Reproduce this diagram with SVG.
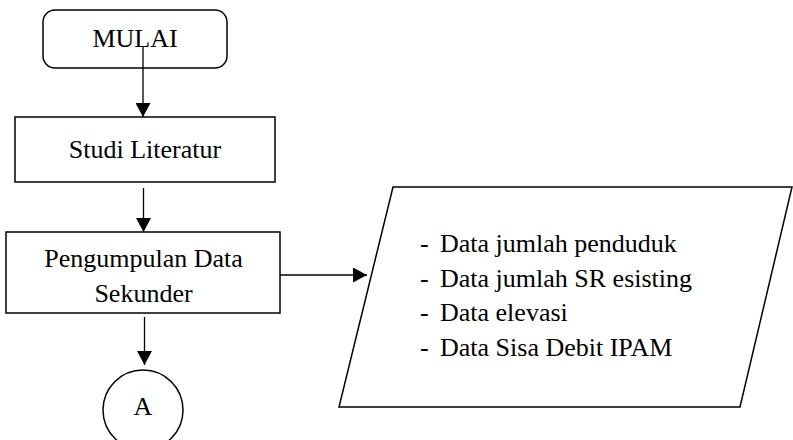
<svg xmlns="http://www.w3.org/2000/svg" width="793" height="440" viewBox="0 0 793 440">
  <style>
    .shape { fill: #ffffff; stroke: #000000; stroke-width: 1.5; }
    .label { font-family: 'Liberation Serif', Tinos, 'Times New Roman', 'DejaVu Serif', serif; font-size: 26px; fill: #000000; }
    .mid { text-anchor: middle; }
    .link { fill: none; stroke: #000000; stroke-width: 1.3; }
  </style>
  <defs>
    <marker id="arrow" viewBox="0 0 14 15" refX="14" refY="7.5" markerWidth="14" markerHeight="15" markerUnits="userSpaceOnUse" orient="auto">
      <path d="M0,0 L14,7.5 L0,15 Z" fill="#000000"/>
    </marker>
  </defs>

  <rect width="793" height="440" fill="#ffffff"/>

  <!-- start terminal -->
  <g id="mulai">
    <rect class="shape" x="43" y="10" width="184" height="58" rx="12" ry="12"/>
    <text class="label mid" x="135" y="47" font-family="Liberation Serif, serif">MULAI</text>
  </g>

  <!-- literature study -->
  <g id="studi-literatur">
    <rect class="shape" x="15" y="117" width="260" height="65"/>
    <text class="label mid" x="145" y="158" font-family="Liberation Serif, serif">Studi Literatur</text>
  </g>

  <!-- secondary data collection -->
  <g id="pengumpulan-data">
    <rect class="shape" x="6" y="232" width="274" height="81"/>
    <text class="label mid" x="143.5" y="267" font-family="Liberation Serif, serif">Pengumpulan Data</text>
    <text class="label mid" x="143.5" y="302" font-family="Liberation Serif, serif">Sekunder</text>
  </g>

  <!-- data inputs -->
  <g id="data-sekunder" font-family="Liberation Serif, serif">
    <polygon class="shape" points="393,187 792,187 740,407 339,407"/>
    <text class="label" x="420" y="252">-</text>
    <text class="label" x="440" y="252">Data jumlah penduduk</text>
    <text class="label" x="420" y="286.5">-</text>
    <text class="label" x="440" y="286.5">Data jumlah SR esisting</text>
    <text class="label" x="420" y="321">-</text>
    <text class="label" x="440" y="321">Data elevasi</text>
    <text class="label" x="420" y="355.5">-</text>
    <text class="label" x="440" y="355.5">Data Sisa Debit IPAM</text>
  </g>

  <!-- off-page connector -->
  <g id="konektor-a">
    <circle class="shape" cx="143" cy="410" r="40"/>
    <text class="label mid" x="143" y="415" font-family="Liberation Serif, serif">A</text>
  </g>

  <!-- connectors -->
  <g id="connectors">
    <line class="link" x1="143" y1="47" x2="143" y2="117" marker-end="url(#arrow)"/>
    <line class="link" x1="143.5" y1="188" x2="143.5" y2="232" marker-end="url(#arrow)"/>
    <line class="link" x1="144.5" y1="317" x2="144.5" y2="365" marker-end="url(#arrow)"/>
    <line class="link" x1="280" y1="275" x2="367" y2="275" marker-end="url(#arrow)"/>
  </g>
</svg>
